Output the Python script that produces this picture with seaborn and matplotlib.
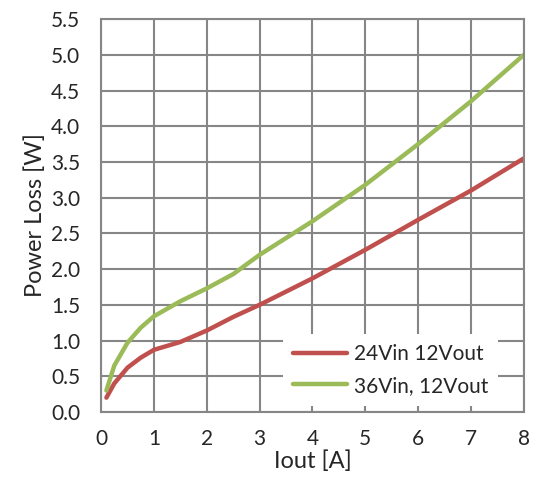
import numpy as np
import pandas as pd
import seaborn as sns
from matplotlib import pyplot as plt

# values
iout_24 = [0.1, 0.25, 0.5, 0.75, 1.0, 1.5, 2.0, 2.5, 3.0, 4.0, 5.0, 6.0, 7.0, 8.0]
loss_24 = [0.2, 0.4, 0.62, 0.76, 0.87, 0.98, 1.14, 1.33, 1.5, 1.87, 2.27, 2.69, 3.1, 3.55]
iout_36 = [0.1, 0.25, 0.5, 0.75, 1.0, 1.5, 2.0, 2.5, 3.0, 4.0, 5.0, 6.0, 7.0, 8.0]
loss_36 = [0.3, 0.65, 0.97, 1.18, 1.34, 1.55, 1.73, 1.93, 2.2, 2.67, 3.18, 3.75, 4.35, 5.0]
series_names = ["24Vin 12Vout", "36Vin, 12Vout"]

df = pd.DataFrame({
    "Iout": iout_24 + iout_36,
    "Loss": loss_24 + loss_36,
    "series": [series_names[0]] * len(iout_24) + [series_names[1]] * len(iout_36),
})

sns.set_style("white")
plt.rcParams['font.family'] = ['Lato', 'DejaVu Sans']

fig, ax = plt.subplots(figsize=(5.35, 4.79), dpi=100)
fig.subplots_adjust(left=0.189, right=0.979, top=0.96, bottom=0.14)

sns.lineplot(data=df, x="Iout", y="Loss", hue="series", ax=ax,
             palette=["#C0504D", "#9BBB59"], linewidth=3.2, sort=False,
             solid_capstyle="round")

ax.set_xlim(0, 8)
ax.set_ylim(0, 5.5)
ax.set_xticks(range(0, 9))
ax.set_yticks(np.arange(0, 5.51, 0.5))
ax.set_yticklabels([f"{v:.1f}" for v in np.arange(0, 5.51, 0.5)])
ax.grid(True, color="#868686", linewidth=1.5)
for s in ax.spines.values():
    s.set_color("#868686")
    s.set_linewidth(1.5)
ax.tick_params(axis="both", length=7, width=1.5, color="#868686", labelsize=15, direction="out")
ax.tick_params(axis="y", pad=8)
ax.tick_params(axis="x", pad=5)
ax.set_xlabel("Iout [A]", fontsize=17, labelpad=1)
ax.set_ylabel("Power Loss [W]", fontsize=17, labelpad=4)

leg = ax.legend(loc="center left", bbox_to_anchor=(0.43, 0.107), fontsize=15,
                frameon=True, fancybox=False, handlelength=2.6, handletextpad=0.3,
                borderaxespad=0, borderpad=0.5, labelspacing=0.55)
leg.get_frame().set_edgecolor("none")
leg.get_frame().set_alpha(1)

fig.savefig("out.png", dpi=100)
